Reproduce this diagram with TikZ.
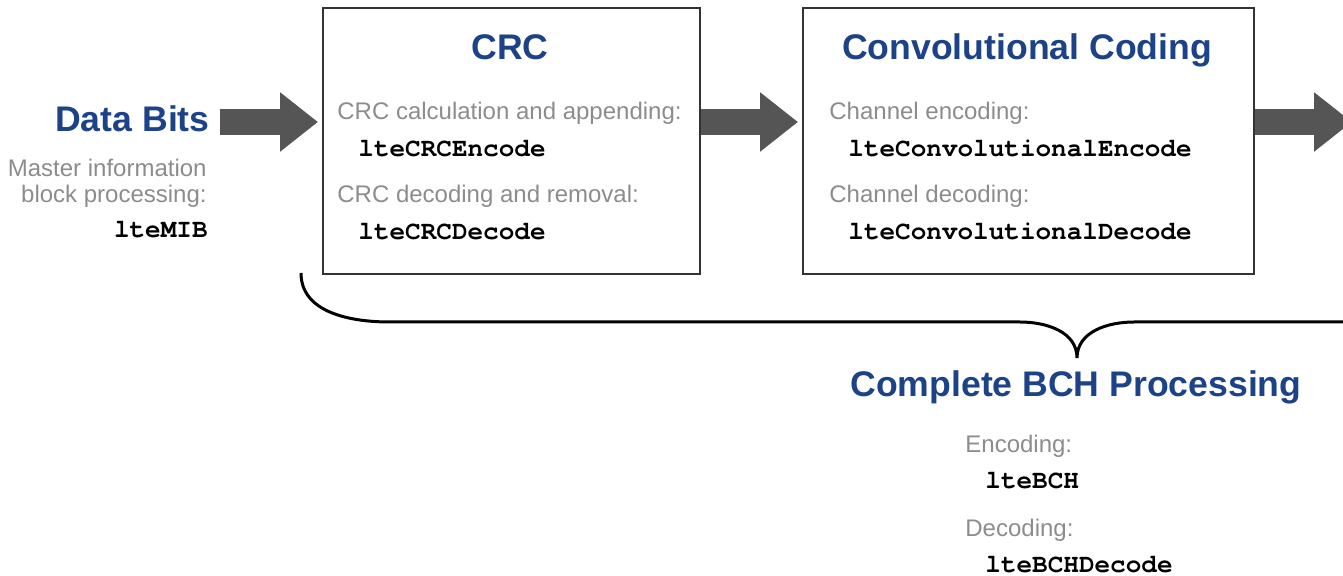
\documentclass[tikz,border=0pt]{standalone}
\usepackage{fontspec}
\setmainfont{Liberation Sans}
\newfontfamily\codefont{TeX Gyre Cursor}
\usetikzlibrary{arrows.meta}
\definecolor{titleblue}{RGB}{28,66,135}
\definecolor{notegray}{RGB}{140,140,140}
\definecolor{arrowgray}{RGB}{85,85,85}
\tikzset{
  title/.style={inner sep=0, anchor=base, text=titleblue, font=\fontsize{17.8}{20}\selectfont\bfseries},
  note/.style={inner sep=0, anchor=base west, text=notegray, font=\fontsize{12}{13}\selectfont},
  func/.style={inner sep=0, anchor=base west, font=\fontsize{13}{14}\codefont\bfseries},
  block/.style={draw=black!80, line width=1pt, inner sep=0, anchor=north west},
  flow/.style={draw=arrowgray, line width=13pt, -{Triangle[length=19pt, width=28.5pt]}},
}

\begin{document}
\begin{tikzpicture}[x=0.5pt, y=-0.5pt]
    \useasboundingbox (0,0) rectangle (1343,576);
    \clip (0,0) rectangle (1343,576);

    \node (crc) at (322,7) [block, minimum width=188.5pt, minimum height=133pt] {};
    \node (conv) at (802,7) [block, minimum width=225.5pt, minimum height=133pt] {};

    \node (bits) at (210,132) [title, anchor=base east] {Data Bits};
    \node (mib) at (207,203) [note, anchor=base east, align=right] {Master information\\block processing:};
    \node (mibfun) at (208,238) [func, anchor=base east] {lteMIB};

    \node (crctitle) at (510,60) [title] {CRC};
    \node (crcenc) at (337,120) [note] {CRC calculation and appending:};
    \node (crcencfun) at (358,157) [func] {lteCRCEncode};
    \node (crcdec) at (337,203) [note] {CRC decoding and removal:};
    \node (crcdecfun) at (358,240) [func] {lteCRCDecode};

    \node (convtitle) at (1027,60) [title] {Convolutional Coding};
    \node (convenc) at (829,120) [note] {Channel encoding:};
    \node (convencfun) at (848,157) [func] {lteConvolutionalEncode};
    \node (convdec) at (829,203) [note] {Channel decoding:};
    \node (convdecfun) at (848,240) [func] {lteConvolutionalDecode};

    \node (bch) at (1076,397) [title] {Complete BCH Processing};
    \node (bchenc) at (965,453) [note] {Encoding:};
    \node (bchencfun) at (985,488) [func] {lteBCH};
    \node (bchdec) at (965,537) [note] {Decoding:};
    \node (bchdecfun) at (985,572) [func] {lteBCHDecode};

    \coordinate (in) at (220,122);
    \coordinate (out) at (1352,122);
    \path [flow, shorten >=2pt] (in) -- (in -| crc.west);
    \path [flow, shorten >=2pt] (in -| crc.east) -- (in -| conv.west);
    \path [flow] (in -| conv.east) -- (out);

    % brace over both blocks
    \coordinate (tip) at (1077,358);
    \draw [line width=1.5pt] (301,273) to[out=-90, in=180] (390,322) -- (1020,322)
        to[out=0, in=90] (tip) to[out=90, in=180] (1134,322) -- (1360,322);
\end{tikzpicture}
\end{document}
